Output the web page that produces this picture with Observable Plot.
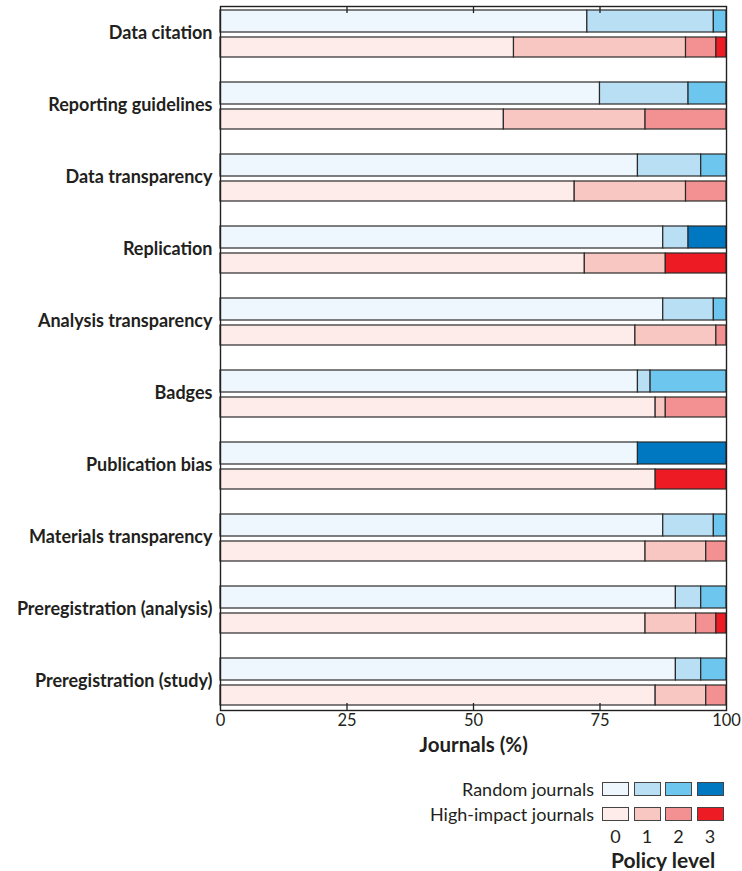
<!DOCTYPE html>
<html>
<head>
<meta charset="utf-8">
<script src="https://cdn.jsdelivr.net/npm/d3@7"></script>
<script src="https://cdn.jsdelivr.net/npm/@observablehq/plot@0.6"></script>
<style>
  body { margin: 0; background: #fff; font-family: Lato, "Open Sans", sans-serif; color: #231f20; }
  #wrap { position: relative; width: 742px; height: 871px; }
  #legend { position: absolute; left: 0; top: 0; width: 742px; height: 871px; pointer-events: none; }
  .lg-label { position: absolute; font-size: 18px; text-align: right; width: 300px; line-height: 20px; }
  .sw { position: absolute; width: 27px; height: 14px; border: 1px solid #444; box-sizing: border-box; }
  .num { position: absolute; font-size: 18px; width: 20px; text-align: center; line-height: 20px; }
  .title { position: absolute; font-size: 21px; font-weight: bold; line-height: 24px; width: 200px; text-align: center; }
</style>
</head>
<body>
<div id="wrap">
  <div id="chart"></div>
  <div id="legend"></div>
</div>
<script>
// ---- data ----
const categories = [
  "Data citation",
  "Reporting guidelines",
  "Data transparency",
  "Replication",
  "Analysis transparency",
  "Badges",
  "Publication bias",
  "Materials transparency",
  "Preregistration (analysis)",
  "Preregistration (study)"
];
const levels = [0, 1, 2, 3];
const groups = ["Random journals", "High-impact journals"];

// Random journals, % at each policy level
const random0 = [72.5, 75, 82.5, 87.5, 87.5, 82.5, 82.5, 87.5, 90, 90];
const random1 = [25, 17.5, 12.5, 5, 10, 2.5, 0, 10, 5, 5];
const random2 = [2.5, 7.5, 5, 0, 2.5, 15, 0, 2.5, 5, 5];
const random3 = [0, 0, 0, 7.5, 0, 0, 17.5, 0, 0, 0];

// High-impact journals, % at each policy level
const high0 = [58, 56, 70, 72, 82, 86, 86, 84, 84, 86];
const high1 = [34, 28, 22, 16, 16, 2, 0, 12, 10, 10];
const high2 = [6, 16, 8, 0, 2, 12, 0, 4, 4, 4];
const high3 = [2, 0, 0, 12, 0, 0, 14, 0, 2, 0];

const xTicks = [0, 25, 50, 75, 100];
const innerTicks = [25, 50, 75];

// ---- styles ----
const blues = ["#eef7fd", "#b9dff5", "#6cc6ee", "#0077c1"];
const reds = ["#fdece9", "#f9c7c1", "#f39192", "#ed1c24"];

function rows(series, group) {
  const out = [];
  categories.forEach((c, i) => {
    series.forEach((s, lvl) => {
      if (s[i] > 0) out.push({category: c, group, level: lvl, value: s[i]});
    });
  });
  return out;
}
const randomRows = rows([random0, random1, random2, random3], groups[0]);
const highRows = rows([high0, high1, high2, high3], groups[1]);

const stroke = "#2a2a2a";

const chart = Plot.plot({
  width: 742,
  height: 764,
  marginLeft: 220,
  marginRight: 16,
  marginTop: 6,
  marginBottom: 54,
  style: {fontFamily: "Lato, 'Open Sans', sans-serif", fontSize: "16px", color: "#231f20", background: "white"},
  x: {domain: [0, 100]},
  y: {domain: categories, paddingInner: 0.342, paddingOuter: 0},
  marks: [
    Plot.barX(randomRows, Plot.stackX({
      x: "value", y: "category", order: null,
      fill: d => blues[d.level],
      stroke, strokeWidth: 1.2, insetBottom: 25
    })),
    Plot.barX(highRows, Plot.stackX({
      x: "value", y: "category", order: null,
      fill: d => reds[d.level],
      stroke, strokeWidth: 1.2, insetTop: 27
    })),
    Plot.tickX(innerTicks, {x: d => d, stroke: "#231f20", strokeWidth: 1.3, insetTop: 697}),
    Plot.tickX(innerTicks, {x: d => d, stroke: "#231f20", strokeWidth: 1.3, insetBottom: 697}),
    Plot.frame({stroke: "#231f20", strokeWidth: 1.4}),
    Plot.axisX({anchor: "bottom", ticks: xTicks, tickSize: 0, tickPadding: 4, fontSize: 16.5, label: null, tickFormat: d => String(d)}),
    Plot.axisY({anchor: "left", tickSize: 0, tickPadding: 8, fontSize: 18, fontWeight: "bold", label: null, dy: -1}),
    Plot.text(["Journals (%)"], {frameAnchor: "bottom", dy: 41, fontSize: 20.5, fontWeight: "bold", fill: "#231f20"})
  ]
});
document.getElementById("chart").appendChild(chart);

// ---- legend (HTML) ----
const legend = document.getElementById("legend");
const swLeft = [602, 633.5, 665, 696.5];
const rowTop = [782, 807];
const palettes = [blues, reds];
groups.forEach((g, r) => {
  const lab = document.createElement("div");
  lab.className = "lg-label";
  lab.textContent = g;
  lab.style.left = (594 - 300) + "px";
  lab.style.top = (rowTop[r] - 3) + "px";
  legend.appendChild(lab);
  levels.forEach((l, i) => {
    const sw = document.createElement("div");
    sw.className = "sw";
    sw.style.left = swLeft[i] + "px";
    sw.style.top = rowTop[r] + "px";
    sw.style.background = palettes[r][l];
    legend.appendChild(sw);
  });
});
levels.forEach((l, i) => {
  const n = document.createElement("div");
  n.className = "num";
  n.textContent = String(l);
  n.style.left = (swLeft[i] + 13.5 - 10) + "px";
  n.style.top = "826px";
  legend.appendChild(n);
});
const t = document.createElement("div");
t.className = "title";
t.textContent = "Policy level";
t.style.left = (663 - 100) + "px";
t.style.top = "848px";
legend.appendChild(t);
</script>
</body>
</html>
